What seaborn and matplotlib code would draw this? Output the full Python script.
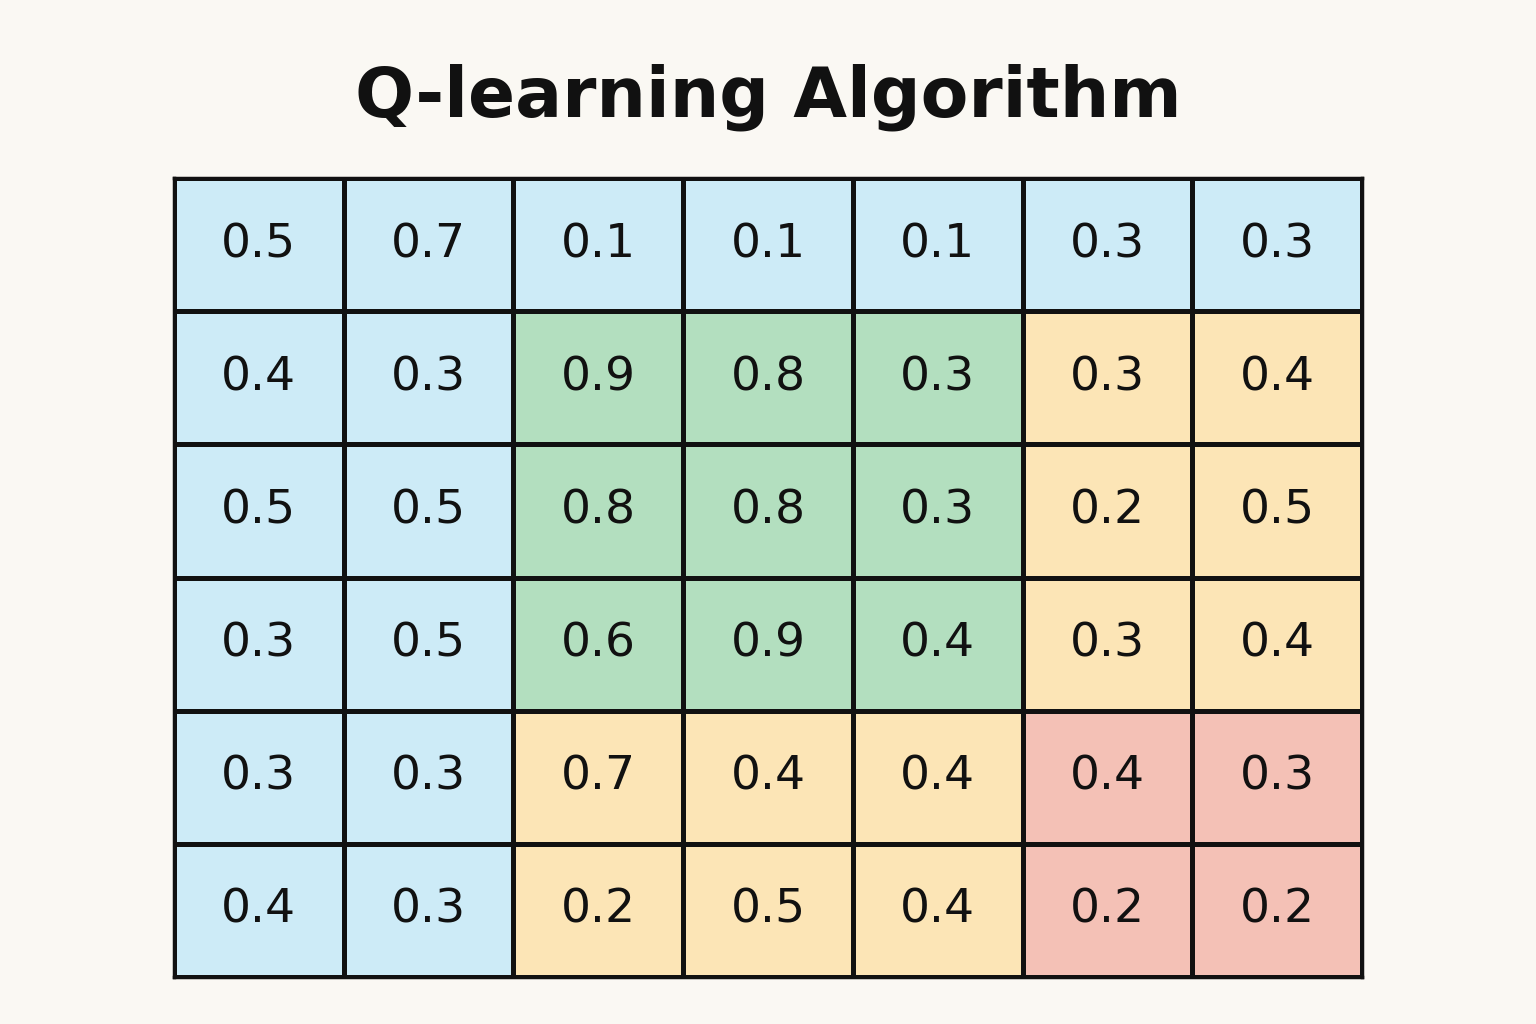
import numpy as np
import seaborn as sns
import matplotlib.pyplot as plt
from matplotlib.colors import ListedColormap

# Q-values shown in each cell
q_values = [
    [0.5, 0.7, 0.1, 0.1, 0.1, 0.3, 0.3],
    [0.4, 0.3, 0.9, 0.8, 0.3, 0.3, 0.4],
    [0.5, 0.5, 0.8, 0.8, 0.3, 0.2, 0.5],
    [0.3, 0.5, 0.6, 0.9, 0.4, 0.3, 0.4],
    [0.3, 0.3, 0.7, 0.4, 0.4, 0.4, 0.3],
    [0.4, 0.3, 0.2, 0.5, 0.4, 0.2, 0.2],
]
# region of each cell: 0 blue, 1 green, 2 yellow, 3 red
regions = [
    [0, 0, 0, 0, 0, 0, 0],
    [0, 0, 1, 1, 1, 2, 2],
    [0, 0, 1, 1, 1, 2, 2],
    [0, 0, 1, 1, 1, 2, 2],
    [0, 0, 2, 2, 2, 3, 3],
    [0, 0, 2, 2, 2, 3, 3],
]
region_colors = ["#CDEBF7", "#B3DFBF", "#FCE5B6", "#F4C1B6"]

bg = "#FAF8F3"
fig = plt.figure(figsize=(15.36, 10.24), dpi=100, facecolor=bg)
ax = fig.add_axes([174 / 1536, 47 / 1024, 1188 / 1536, 799 / 1024])

sns.heatmap(np.array(regions), cmap=ListedColormap(region_colors), vmin=-0.5, vmax=3.5,
            annot=np.array(q_values), fmt=".1f", cbar=False,
            linewidths=2.5, linecolor="#111111", ax=ax,
            annot_kws={"fontsize": 34, "color": "#111111"})
ax.set_xticks([])
ax.set_yticks([])
for s in ax.spines.values():
    s.set_visible(True)
    s.set_linewidth(2.5)
    s.set_color("#111111")

fig.text(0.5, 1 - 97 / 1024, "Q-learning Algorithm", ha="center", va="center",
         fontsize=50, fontweight="bold", color="#111111")

fig.savefig("out.png", dpi=100, facecolor=bg)
